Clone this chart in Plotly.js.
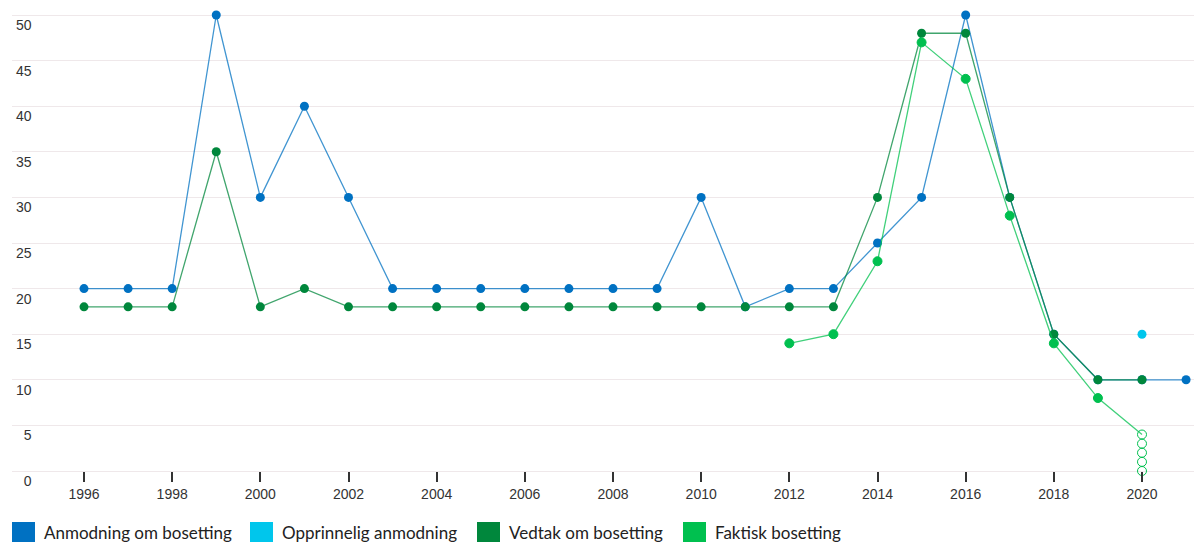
<!DOCTYPE html>
<html>
<head>
<meta charset="utf-8">
<script src="https://cdn.plot.ly/plotly-3.0.1.min.js"></script>
<style>
html,body{margin:0;padding:0;background:#fff;}
#chart{width:1194px;height:542px;}
</style>
</head>
<body>
<div id="chart"></div>
<script>
// ---- data ----
const seriesNames = ["Anmodning om bosetting", "Opprinnelig anmodning", "Vedtak om bosetting", "Faktisk bosetting"];
const seriesColors = ["#0071c2", "#00c6ec", "#00873c", "#00c04f"];
const lineColors = ["rgba(0,113,194,0.75)", "rgba(0,198,236,0.75)", "rgba(0,135,60,0.75)", "rgba(0,192,79,0.75)"];

const anmodningYears = [1996,1997,1998,1999,2000,2001,2002,2003,2004,2005,2006,2007,2008,2009,2010,2011,2012,2013,2014,2015,2016,2017,2018,2019,2020,2021];
const anmodningValues = [20,20,20,50,30,40,30,20,20,20,20,20,20,20,30,18,20,20,25,30,50,30,15,10,10,10];

const opprinneligYears = [2020];
const opprinneligValues = [15];

const vedtakYears = [1996,1997,1998,1999,2000,2001,2002,2003,2004,2005,2006,2007,2008,2009,2010,2011,2012,2013,2014,2015,2016,2017,2018,2019,2020];
const vedtakValues = [18,18,18,35,18,20,18,18,18,18,18,18,18,18,18,18,18,18,30,48,48,30,15,10,10];

const faktiskYears = [2012,2013,2014,2015,2016,2017,2018,2019,2020];
const faktiskValues = [14,15,23,47,43,28,14,8,4];
const faktiskOpen = [false,false,false,false,false,false,false,false,true];

const usikkerYears = [2020,2020,2020,2020];
const usikkerValues = [3,2,1,0];

const yTickVals = [0,5,10,15,20,25,30,35,40,45,50];
const yTickText = ["\u20070","\u20075","10","15","20","25","30","35","40","45","50"];
const xTickVals = [1996,1998,2000,2002,2004,2006,2008,2010,2012,2014,2016,2018,2020];

// ---- layout geometry (pixels) ----
const W = 1194, H = 542;
const mL = 12, mR = 0, mT = 10, mB = 47;
const plotH = H - mT - mB;
const plotW = W - mL - mR;

const MS = 9;
function lineTrace(x, y, i, extra) {
  return Object.assign({
    type: "scatter", mode: "lines+markers", x: x, y: y, name: seriesNames[i],
    line: {color: lineColors[i], width: 1.3},
    marker: {color: seriesColors[i], size: MS},
    showlegend: false, hoverinfo: "x+y+name", cliponaxis: false
  }, extra || {});
}

const traces = [
  lineTrace(anmodningYears, anmodningValues, 0),
  lineTrace(opprinneligYears, opprinneligValues, 1, {mode: "markers"}),
  lineTrace(vedtakYears, vedtakValues, 2),
  lineTrace(faktiskYears, faktiskValues, 3, {
    marker: {
      color: seriesColors[3], size: MS,
      symbol: faktiskOpen.map(o => o ? "circle-open" : "circle"),
      line: {color: seriesColors[3], width: 1}
    }
  }),
  {
    type: "scatter", mode: "markers", x: usikkerYears, y: usikkerValues,
    name: seriesNames[3], showlegend: false, cliponaxis: false,
    marker: {symbol: "circle-open", size: MS, color: seriesColors[3], line: {color: seriesColors[3], width: 1}}
  }
];

// legend built from series names
const legendX = [12, 250, 477, 683];
const shapes = [];
const annotations = [];
seriesNames.forEach((n, i) => {
  shapes.push({
    type: "rect", xref: "paper", yref: "paper",
    xsizemode: "pixel", ysizemode: "pixel", xanchor: 0, yanchor: 0,
    x0: legendX[i] - mL, x1: legendX[i] - mL + 23,
    y0: -(522 - (H - mB)), y1: -(546 - (H - mB)),
    fillcolor: seriesColors[i], line: {width: 0}
  });
  annotations.push({
    xref: "paper", yref: "paper",
    x: (legendX[i] + 30 - mL) / plotW, y: ((H - mB) - 532) / plotH,
    xanchor: "left", yanchor: "middle", showarrow: false,
    text: n, font: {family: "Lato, 'Open Sans', sans-serif", size: 17, color: "#222"}
  });
});

const pxPerUnit = (471 - 15) / 50;
const yTop = 50 + (15 - mT) / pxPerUnit;
const yBot = -((H - mB) - 471) / pxPerUnit;

const pxPerYear = (1142 - 84) / 24;
const xLeft = 1996 - (84 - mL) / pxPerYear;
const xRight = xLeft + plotW / pxPerYear;

const layout = {
  width: W, height: H,
  margin: {l: mL, r: mR, t: mT, b: mB, pad: 0},
  paper_bgcolor: "#fff", plot_bgcolor: "#fff",
  showlegend: false,
  font: {family: "'Liberation Sans', Arial, sans-serif", size: 14, color: "#333"},
  xaxis: {
    range: [xLeft, xRight], tickvals: xTickVals, ticktext: xTickVals.map(String),
    showgrid: false, zeroline: false, showline: false,
    ticks: "outside", ticklen: 10, tickwidth: 1.5, tickcolor: "#333",
    anchor: "free", position: ((H - mB) - 471) / plotH,
    tickfont: {size: 14, color: "#333"}, fixedrange: true
  },
  yaxis: {
    range: [yBot, yTop], tickvals: yTickVals, ticktext: yTickText,
    showgrid: true, gridcolor: "#efe8ea", gridwidth: 1, zeroline: false, showline: false,
    ticks: "", ticklabelposition: "inside", ticklabelshift: 10, ticklabelstandoff: 1,
    tickfont: {size: 14, color: "#333"}, fixedrange: true
  },
  shapes: shapes,
  annotations: annotations
};

Plotly.newPlot("chart", traces, layout, {displayModeBar: false, staticPlot: false});
</script>
</body>
</html>
